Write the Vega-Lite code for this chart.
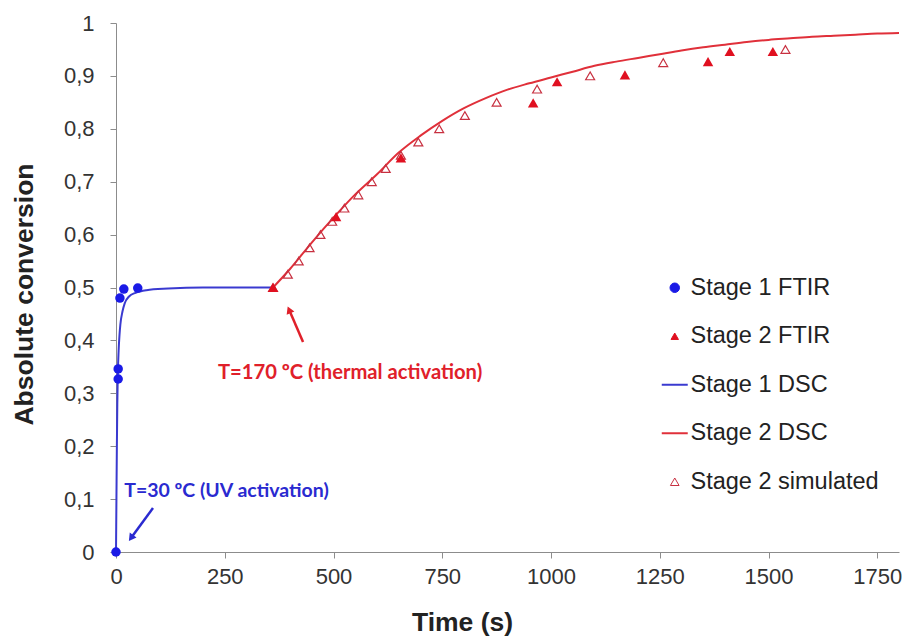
{
  "$schema": "https://vega.github.io/schema/vega-lite/v6.json",
  "width": 783,
  "height": 529,
  "autosize": "none",
  "padding": {"left": 116, "top": 23, "right": 8, "bottom": 85},
  "background": "white",
  "config": {
    "view": {"stroke": null},
    "axis": {
      "domainColor": "#8c8c8c",
      "tickColor": "#8c8c8c",
      "tickSize": 6,
      "grid": false,
      "labelFont": "Liberation Sans",
      "labelFontSize": 22,
      "labelColor": "#333333",
      "titleFont": "Liberation Sans",
      "titleFontSize": 26.5,
      "titleFontWeight": "bold",
      "titleColor": "#222222"
    }
  },
  "datasets": {
    "dsc": [
      {"series": "Stage 1 DSC", "t": 0, "y": 0},
      {"series": "Stage 1 DSC", "t": 1, "y": 0.1},
      {"series": "Stage 1 DSC", "t": 2, "y": 0.2},
      {"series": "Stage 1 DSC", "t": 3, "y": 0.28},
      {"series": "Stage 1 DSC", "t": 4, "y": 0.33},
      {"series": "Stage 1 DSC", "t": 6, "y": 0.38},
      {"series": "Stage 1 DSC", "t": 8, "y": 0.41},
      {"series": "Stage 1 DSC", "t": 10, "y": 0.43},
      {"series": "Stage 1 DSC", "t": 15, "y": 0.455},
      {"series": "Stage 1 DSC", "t": 20, "y": 0.47},
      {"series": "Stage 1 DSC", "t": 30, "y": 0.483},
      {"series": "Stage 1 DSC", "t": 45, "y": 0.49},
      {"series": "Stage 1 DSC", "t": 70, "y": 0.495},
      {"series": "Stage 1 DSC", "t": 120, "y": 0.498},
      {"series": "Stage 1 DSC", "t": 200, "y": 0.5},
      {"series": "Stage 1 DSC", "t": 361, "y": 0.5},
      {"series": "Stage 2 DSC", "t": 361, "y": 0.5},
      {"series": "Stage 2 DSC", "t": 400, "y": 0.535},
      {"series": "Stage 2 DSC", "t": 450, "y": 0.585},
      {"series": "Stage 2 DSC", "t": 500, "y": 0.632},
      {"series": "Stage 2 DSC", "t": 550, "y": 0.676},
      {"series": "Stage 2 DSC", "t": 600, "y": 0.714},
      {"series": "Stage 2 DSC", "t": 650, "y": 0.755},
      {"series": "Stage 2 DSC", "t": 700, "y": 0.787},
      {"series": "Stage 2 DSC", "t": 750, "y": 0.815},
      {"series": "Stage 2 DSC", "t": 800, "y": 0.839},
      {"series": "Stage 2 DSC", "t": 850, "y": 0.858},
      {"series": "Stage 2 DSC", "t": 900, "y": 0.874},
      {"series": "Stage 2 DSC", "t": 950, "y": 0.886},
      {"series": "Stage 2 DSC", "t": 1000, "y": 0.897},
      {"series": "Stage 2 DSC", "t": 1050, "y": 0.908},
      {"series": "Stage 2 DSC", "t": 1100, "y": 0.919},
      {"series": "Stage 2 DSC", "t": 1150, "y": 0.927},
      {"series": "Stage 2 DSC", "t": 1200, "y": 0.934},
      {"series": "Stage 2 DSC", "t": 1250, "y": 0.941},
      {"series": "Stage 2 DSC", "t": 1300, "y": 0.948},
      {"series": "Stage 2 DSC", "t": 1350, "y": 0.954},
      {"series": "Stage 2 DSC", "t": 1400, "y": 0.959},
      {"series": "Stage 2 DSC", "t": 1450, "y": 0.964},
      {"series": "Stage 2 DSC", "t": 1500, "y": 0.968},
      {"series": "Stage 2 DSC", "t": 1550, "y": 0.971},
      {"series": "Stage 2 DSC", "t": 1600, "y": 0.974},
      {"series": "Stage 2 DSC", "t": 1650, "y": 0.976},
      {"series": "Stage 2 DSC", "t": 1700, "y": 0.978},
      {"series": "Stage 2 DSC", "t": 1750, "y": 0.98},
      {"series": "Stage 2 DSC", "t": 1800, "y": 0.981}
    ],
    "ftir1": [
      {"series": "Stage 1 FTIR", "t": 0, "y": 0},
      {"series": "Stage 1 FTIR", "t": 5, "y": 0.327},
      {"series": "Stage 1 FTIR", "t": 5, "y": 0.346},
      {"series": "Stage 1 FTIR", "t": 9, "y": 0.48},
      {"series": "Stage 1 FTIR", "t": 18, "y": 0.497},
      {"series": "Stage 1 FTIR", "t": 50, "y": 0.499}
    ],
    "ftir2": [
      {"series": "Stage 2 FTIR", "t": 361, "y": 0.5},
      {"series": "Stage 2 FTIR", "t": 506, "y": 0.634},
      {"series": "Stage 2 FTIR", "t": 655, "y": 0.745},
      {"series": "Stage 2 FTIR", "t": 959, "y": 0.849},
      {"series": "Stage 2 FTIR", "t": 1014, "y": 0.889},
      {"series": "Stage 2 FTIR", "t": 1170, "y": 0.902},
      {"series": "Stage 2 FTIR", "t": 1361, "y": 0.927},
      {"series": "Stage 2 FTIR", "t": 1411, "y": 0.946},
      {"series": "Stage 2 FTIR", "t": 1510, "y": 0.946}
    ],
    "sim": [
      {"series": "Stage 2 simulated", "t": 361, "y": 0.5},
      {"series": "Stage 2 simulated", "t": 395, "y": 0.525},
      {"series": "Stage 2 simulated", "t": 420, "y": 0.55},
      {"series": "Stage 2 simulated", "t": 445, "y": 0.575},
      {"series": "Stage 2 simulated", "t": 470, "y": 0.6},
      {"series": "Stage 2 simulated", "t": 497, "y": 0.625},
      {"series": "Stage 2 simulated", "t": 525, "y": 0.65},
      {"series": "Stage 2 simulated", "t": 557, "y": 0.675},
      {"series": "Stage 2 simulated", "t": 588, "y": 0.7},
      {"series": "Stage 2 simulated", "t": 620, "y": 0.725},
      {"series": "Stage 2 simulated", "t": 655, "y": 0.75},
      {"series": "Stage 2 simulated", "t": 695, "y": 0.775},
      {"series": "Stage 2 simulated", "t": 743, "y": 0.8},
      {"series": "Stage 2 simulated", "t": 802, "y": 0.825},
      {"series": "Stage 2 simulated", "t": 875, "y": 0.85},
      {"series": "Stage 2 simulated", "t": 968, "y": 0.875},
      {"series": "Stage 2 simulated", "t": 1090, "y": 0.9},
      {"series": "Stage 2 simulated", "t": 1258, "y": 0.925},
      {"series": "Stage 2 simulated", "t": 1539, "y": 0.95}
    ],
    "notes": [
      {"kind": "thermal", "label": "T=170 ºC (thermal activation)", "t": 538, "y": 0.338},
      {"kind": "UV", "label": "T=30 ºC (UV activation)", "t": 254, "y": 0.116}
    ],
    "arrows": [
      {"kind": "thermal", "t": 430, "y": 0.397, "t2": 398, "y2": 0.458},
      {"kind": "UV", "t": 85, "y": 0.083, "t2": 34.5, "y2": 0.0265}
    ]
  },
  "layer": [
    {
      "data": {"name": "dsc"},
      "mark": {"type": "line", "strokeWidth": 2, "interpolate": "monotone"},
      "encoding": {
        "x": {"field": "t", "type": "quantitative", "scale": {"domain": [0, 1800], "nice": false},
          "axis": {"values": [0, 250, 500, 750, 1000, 1250, 1500, 1750], "format": "d", "title": "Time (s)", "labelPadding": 8, "titleX": 346, "titleY": 70, "titleBaseline": "middle", "labelFlush": false}},
        "y": {"field": "y", "type": "quantitative", "scale": {"domain": [0, 1], "nice": false},
          "axis": {"values": [0, 0.1, 0.2, 0.3, 0.4, 0.5, 0.6, 0.7, 0.8, 0.9, 1], "format": "~g", "labelExpr": "replace(datum.label, '.', ',')", "title": "Absolute conversion", "labelPadding": 16, "titleX": -92, "titleY": 271, "titleBaseline": "middle", "titleAlign": "center", "labelFlush": false}},
        "color": {"field": "series", "type": "nominal",
          "scale": {"domain": ["Stage 1 FTIR", "Stage 2 FTIR", "Stage 1 DSC", "Stage 2 DSC", "Stage 2 simulated"], "range": ["#1a1ae6", "#e01020", "#3a3ad0", "#e0303a", "#c83040"]},
          "legend": {"title": null, "orient": "none", "legendX": 547, "legendY": 253, "padding": 0, "symbolSize": 676, "rowPadding": 23.5, "labelFont": "Liberation Sans", "labelFontSize": 23.5, "labelColor": "#222222", "labelOffset": 4, "labelLimit": 400, "symbolOpacity": 1,
            "encode": {"symbols": {"update": {
              "fill": {"signal": "datum.value == 'Stage 1 FTIR' ? '#1a1ae6' : datum.value == 'Stage 2 FTIR' ? '#e01020' : 'transparent'"},
              "fillOpacity": {"signal": "datum.value == 'Stage 1 FTIR' || datum.value == 'Stage 2 FTIR' ? 1 : 0"},
              "stroke": {"signal": "datum.value == 'Stage 1 FTIR' ? '#1a1ae6' : datum.value == 'Stage 2 FTIR' ? '#e01020' : datum.value == 'Stage 1 DSC' ? '#3a3ad0' : datum.value == 'Stage 2 DSC' ? '#e0303a' : '#c85060'"},
              "strokeWidth": {"signal": "datum.value == 'Stage 1 DSC' || datum.value == 'Stage 2 DSC' ? 2 : 1"},
              "size": {"signal": "datum.value == 'Stage 1 DSC' || datum.value == 'Stage 2 DSC' ? 676 : datum.value == 'Stage 1 FTIR' ? 90 : datum.value == 'Stage 2 FTIR' ? 55 : 75"}
            }}}}
        }
      }
    },
    {
      "data": {"name": "ftir1"},
      "mark": {"type": "point", "filled": true, "opacity": 1, "size": 90},
      "encoding": {
        "x": {"field": "t", "type": "quantitative", "scale": {"domain": [0, 1800], "nice": false}},
        "y": {"field": "y", "type": "quantitative", "scale": {"domain": [0, 1], "nice": false}},
        "color": {"field": "series", "type": "nominal"},
        "shape": {"field": "series", "type": "nominal",
          "scale": {"domain": ["Stage 1 FTIR", "Stage 2 FTIR", "Stage 1 DSC", "Stage 2 DSC", "Stage 2 simulated"], "range": ["circle", "triangle-up", "stroke", "stroke", "triangle-up"]}}
      }
    },
    {
      "data": {"name": "sim"},
      "mark": {"type": "point", "filled": false, "opacity": 1, "size": 80, "strokeWidth": 1.2},
      "encoding": {
        "x": {"field": "t", "type": "quantitative"},
        "y": {"field": "y", "type": "quantitative"},
        "color": {"field": "series", "type": "nominal"},
        "shape": {"field": "series", "type": "nominal"}
      }
    },
    {
      "data": {"name": "ftir2"},
      "mark": {"type": "point", "filled": true, "opacity": 1, "size": 110},
      "encoding": {
        "x": {"field": "t", "type": "quantitative"},
        "y": {"field": "y", "type": "quantitative"},
        "color": {"field": "series", "type": "nominal"},
        "shape": {"field": "series", "type": "nominal"}
      }
    },
    {
      "data": {"name": "notes"},
      "mark": {"type": "text", "font": "Lato", "fontWeight": "bold", "align": "center", "baseline": "middle"},
      "encoding": {
        "x": {"field": "t", "type": "quantitative"},
        "y": {"field": "y", "type": "quantitative"},
        "text": {"field": "label"},
        "size": {"condition": {"test": "datum.kind == 'thermal'", "value": 20.2}, "value": 19.5},
        "color": {"condition": {"test": "datum.kind == 'thermal'", "value": "#e0202a"}, "value": "#2a2ad0"}
      }
    },
    {
      "data": {"name": "arrows"},
      "transform": [{"filter": "datum.kind == 'thermal'"}],
      "mark": {"type": "rule", "color": "#e0202a", "strokeWidth": 2.5},
      "encoding": {
        "x": {"field": "t", "type": "quantitative"},
        "y": {"field": "y", "type": "quantitative"},
        "x2": {"field": "t2"},
        "y2": {"field": "y2"}
      }
    },
    {
      "data": {"name": "arrows"},
      "transform": [{"filter": "datum.kind == 'thermal'"}],
      "mark": {"type": "point", "shape": "triangle-up", "filled": true, "color": "#e0202a", "opacity": 1, "size": 70, "angle": 337},
      "encoding": {
        "x": {"field": "t2", "type": "quantitative"},
        "y": {"field": "y2", "type": "quantitative"}
      }
    },
    {
      "data": {"name": "arrows"},
      "transform": [{"filter": "datum.kind == 'UV'"}],
      "mark": {"type": "rule", "color": "#2a2ad0", "strokeWidth": 2.5},
      "encoding": {
        "x": {"field": "t", "type": "quantitative"},
        "y": {"field": "y", "type": "quantitative"},
        "x2": {"field": "t2"},
        "y2": {"field": "y2"}
      }
    },
    {
      "data": {"name": "arrows"},
      "transform": [{"filter": "datum.kind == 'UV'"}],
      "mark": {"type": "point", "shape": "triangle-up", "filled": true, "color": "#2a2ad0", "opacity": 1, "size": 70, "angle": 216},
      "encoding": {
        "x": {"field": "t2", "type": "quantitative"},
        "y": {"field": "y2", "type": "quantitative"}
      }
    }
  ]
}
